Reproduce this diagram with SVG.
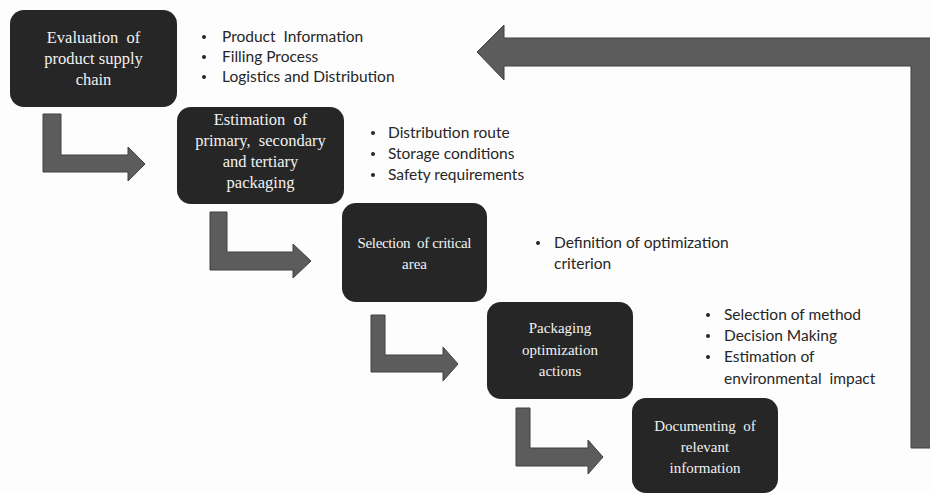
<svg xmlns="http://www.w3.org/2000/svg" width="930" height="494" viewBox="0 0 930 494">
  <style>
    .box { fill: #262626; }
    .label { font-family: "Liberation Serif", "Times New Roman", serif; font-size: 15px; fill: #f2f2f2; text-anchor: middle; white-space: pre; }
    .big { font-size: 16.5px; }
    .note { font-family: Lato, "Open Sans", sans-serif; font-size: 15.5px; fill: #262626; white-space: pre; }
    .dot { fill: #262626; }
    .arrow { fill: #5c5c5c; stroke: #404040; stroke-width: 1; }
  </style>
  <rect width="930" height="494" fill="#fdfdfd"/>

  <!-- connectors: bent step arrows and the return arrow -->
  <g id="connectors">
    <path class="arrow" d="M43 114 H61 V155 H128 V147 L145 164 L128 181 V172 H43 Z"/>
    <path class="arrow" d="M210 212 H227 V252 H293 V244 L311 261 L293 278 V270 H210 Z"/>
    <path class="arrow" d="M371 315 H385 V355 H443 V347 L458 364 L443 381 V372 H371 Z"/>
    <path class="arrow" d="M516 408 H530 V448 H588 V440 L603 457 L588 474 V466 H516 Z"/>
    <path class="arrow" d="M504 38 H940 V448 H911 V66 H504 V80 L477 52 L504 25 Z"/>
  </g>

  <g id="node-evaluation">
    <rect class="box" x="10" y="10" width="167" height="97" rx="14"/>
    <text class="label big" x="93.5" y="43">Evaluation  of</text>
    <text class="label big" x="93.5" y="64">product supply</text>
    <text class="label big" x="93.5" y="85">chain</text>
  </g>
  <g id="notes-evaluation">
    <circle class="dot" cx="204" cy="37" r="2"/>
    <circle class="dot" cx="204" cy="57" r="2"/>
    <circle class="dot" cx="204" cy="77" r="2"/>
    <text class="note" x="222" y="42">Product  Information</text>
    <text class="note" x="222" y="62">Filling Process</text>
    <text class="note" x="222" y="82">Logistics and Distribution</text>
  </g>

  <g id="node-estimation">
    <rect class="box" x="177" y="107" width="167" height="97" rx="14"/>
    <text class="label big" x="260.5" y="125">Estimation  of</text>
    <text class="label big" x="260.5" y="146">primary,  secondary</text>
    <text class="label big" x="260.5" y="167">and tertiary</text>
    <text class="label big" x="260.5" y="188">packaging</text>
  </g>
  <g id="notes-estimation">
    <circle class="dot" cx="373" cy="133" r="2"/>
    <circle class="dot" cx="373" cy="154" r="2"/>
    <circle class="dot" cx="373" cy="175" r="2"/>
    <text class="note" x="388" y="138">Distribution route</text>
    <text class="note" x="388" y="159">Storage conditions</text>
    <text class="note" x="388" y="180">Safety requirements</text>
  </g>

  <g id="node-selection">
    <rect class="box" x="342" y="203" width="145" height="99" rx="14"/>
    <text class="label" x="414.5" y="248" textLength="114" lengthAdjust="spacing">Selection  of critical</text>
    <text class="label" x="414.5" y="269">area</text>
  </g>
  <g id="notes-selection">
    <circle class="dot" cx="538" cy="243" r="2"/>
    <text class="note" x="554" y="248">Definition of optimization</text>
    <text class="note" x="554" y="269">criterion</text>
  </g>

  <g id="node-optimization">
    <rect class="box" x="487" y="302" width="146" height="97" rx="14"/>
    <text class="label" x="560" y="333">Packaging</text>
    <text class="label" x="560" y="355">optimization</text>
    <text class="label" x="560" y="376">actions</text>
  </g>
  <g id="notes-optimization">
    <circle class="dot" cx="708" cy="315" r="2"/>
    <circle class="dot" cx="708" cy="336" r="2"/>
    <circle class="dot" cx="708" cy="357" r="2"/>
    <text class="note" x="724" y="320">Selection of method</text>
    <text class="note" x="724" y="341">Decision Making</text>
    <text class="note" x="724" y="362">Estimation of</text>
    <text class="note" x="724" y="384">environmental  impact</text>
  </g>

  <g id="node-documenting">
    <rect class="box" x="632" y="398" width="146" height="95" rx="14"/>
    <text class="label" x="705" y="431">Documenting  of</text>
    <text class="label" x="705" y="452">relevant</text>
    <text class="label" x="705" y="473">information</text>
  </g>
</svg>
